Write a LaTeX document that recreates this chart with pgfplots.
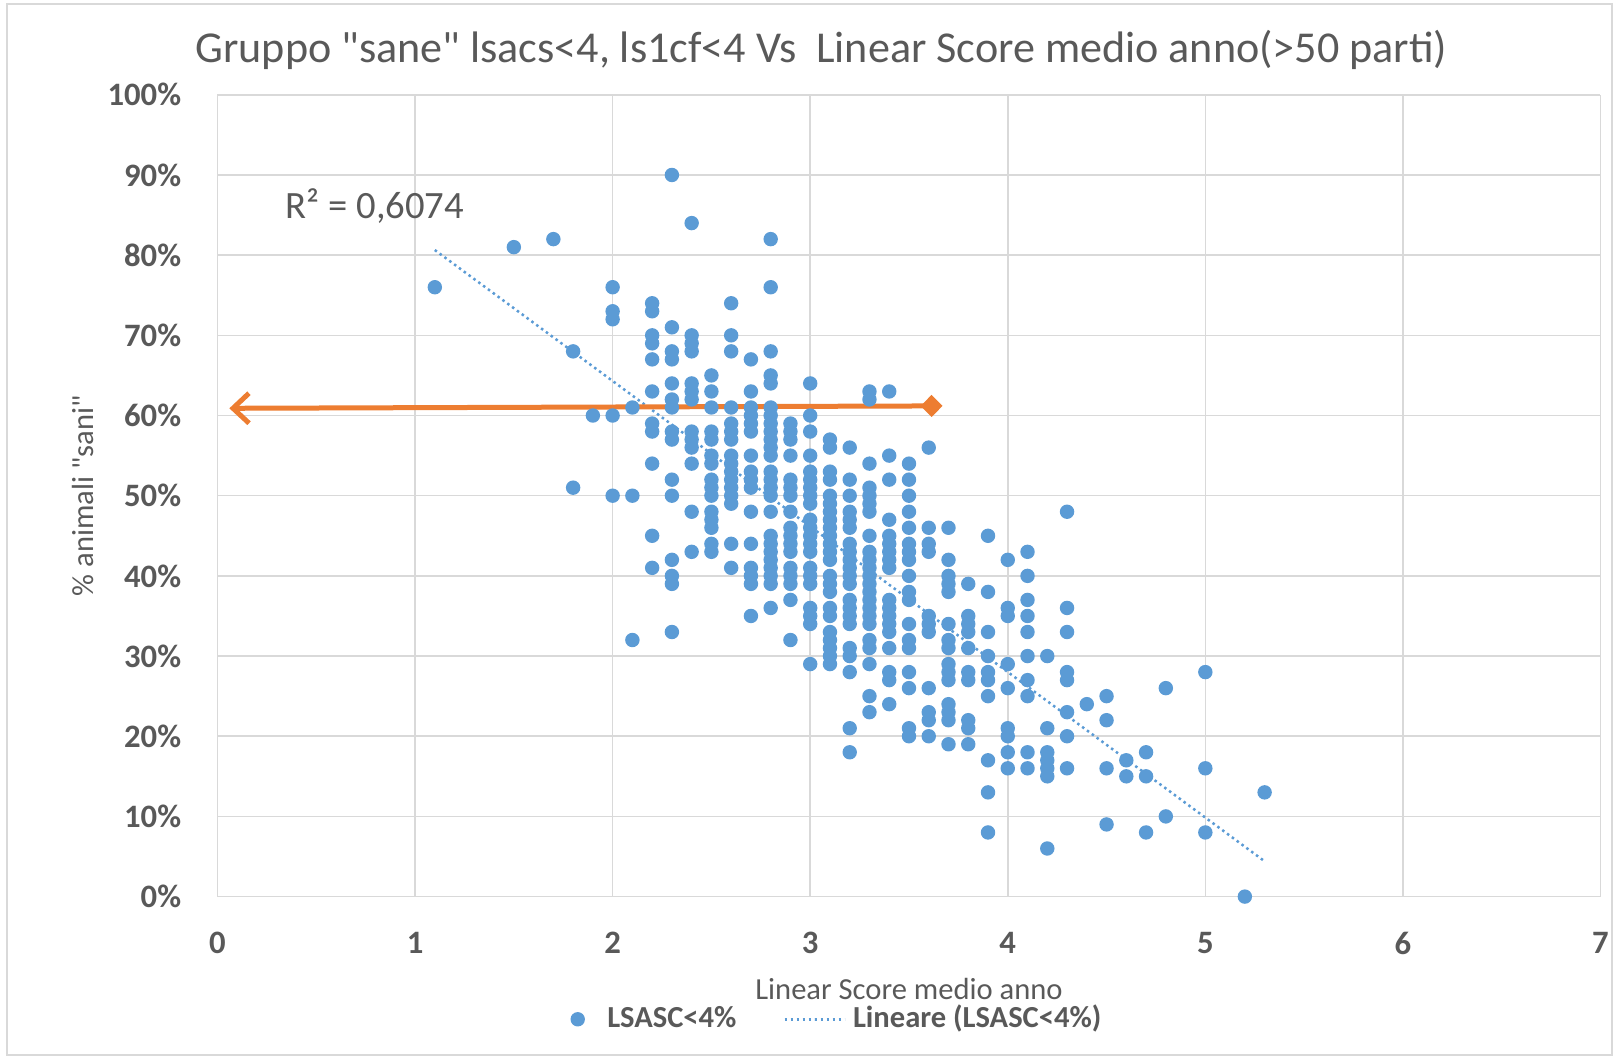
\documentclass[border=0pt]{standalone}
\usepackage{fontspec}
\setmainfont{Carlito}
\usepackage{pgfplots}
\pgfplotsset{compat=1.18}
\usetikzlibrary{arrows.meta}
\definecolor{ptblue}{HTML}{5B9BD5}
\definecolor{orng}{HTML}{ED7D31}
\definecolor{gridc}{HTML}{D9D9D9}
\definecolor{txt}{HTML}{595959}
\begin{document}
\begin{tikzpicture}
\useasboundingbox (-21.75mm,-16.24mm) rectangle (139.85mm,89.66mm);
\draw[gridc, line width=0.2mm] (-21.0mm,-15.8mm) rectangle (139.45mm,89.26mm);
\begin{axis}[
 at={(0,0)}, anchor=south west,
 scale only axis, width=138.3mm, height=80.18mm,
 xmin=0, xmax=7, ymin=0, ymax=100,
 xtick={0,...,7}, xticklabels={0,1,2,3,4,5,6,7},
 ytick={0,10,...,100}, yticklabels={0\%,10\%,20\%,30\%,40\%,50\%,60\%,70\%,80\%,90\%,100\%},
 grid=major, major grid style={gridc, line width=0.15mm},
 axis line style={draw=none},
 major tick length=0pt,
 tick label style={font=\fontsize{9.3pt}{11pt}\selectfont\bfseries, text=txt},
 xticklabel style={yshift=-2.3mm},
 yticklabel style={xshift=-2.4mm},
 clip=false,
 title={Gruppo \textquotedbl sane\textquotedbl{} lsacs<4, ls1cf<4 Vs\ \ Linear Score medio anno(>50 parti)},
 title style={at={(axis description cs:0.4367,1.0296)}, anchor=center, font=\fontsize{12.55pt}{15pt}\selectfont, text=txt},
 xlabel={Linear Score medio anno},
 ylabel={\% animali \textquotedbl sani\textquotedbl},
 every axis x label/.style={at={(axis description cs:0.5,-0.1157)}, anchor=center, font=\fontsize{8.7pt}{10pt}\selectfont, text=txt},
 every axis y label/.style={at={(axis description cs:-0.0976,0.5)}, rotate=90, anchor=center, font=\fontsize{8.7pt}{10pt}\selectfont, text=txt},
 legend style={at={(axis description cs:0.45,-0.153)}, anchor=center, draw=none, fill=none, legend columns=2,
   font=\fontsize{8.7pt}{10pt}\selectfont\bfseries, text=txt,
   /tikz/every even column/.append style={column sep=4mm}},
 legend cell align=left,
]
\addplot[only marks, mark=*, mark size=0.65mm, mark options={fill=ptblue, draw=ptblue}] coordinates {
(1.1,76) (1.5,81) (1.7,82) (1.8,68) (1.8,51) (1.9,60)
(2.0,76) (2.0,73) (2.0,72) (2.0,60) (2.0,50)
(2.1,61) (2.1,50) (2.1,32)
(2.2,74) (2.2,73) (2.2,70) (2.2,69) (2.2,67) (2.2,63) (2.2,59) (2.2,58) (2.2,54) (2.2,45) (2.2,41)
(2.3,90) (2.3,71) (2.3,68) (2.3,67) (2.3,64) (2.3,62) (2.3,61) (2.3,58) (2.3,57) (2.3,52) (2.3,50) (2.3,42) (2.3,40) (2.3,39) (2.3,33)
(2.4,84) (2.4,70) (2.4,69) (2.4,68) (2.4,64) (2.4,63) (2.4,62) (2.4,58) (2.4,57) (2.4,56) (2.4,54) (2.4,48) (2.4,43)
(2.5,65) (2.5,63) (2.5,61) (2.5,58) (2.5,57) (2.5,55) (2.5,54) (2.5,52) (2.5,51) (2.5,50) (2.5,48) (2.5,47) (2.5,46) (2.5,44) (2.5,43)
(2.6,74) (2.6,70) (2.6,68) (2.6,61) (2.6,59) (2.6,58) (2.6,57) (2.6,55) (2.6,54) (2.6,53) (2.6,52) (2.6,51) (2.6,50) (2.6,49) (2.6,44) (2.6,41)
(2.7,67) (2.7,63) (2.7,61) (2.7,60) (2.7,59) (2.7,58) (2.7,55) (2.7,53) (2.7,52) (2.7,51) (2.7,48) (2.7,44) (2.7,41) (2.7,40) (2.7,39) (2.7,35)
(2.8,82) (2.8,76) (2.8,68) (2.8,65) (2.8,64) (2.8,61) (2.8,60) (2.8,59) (2.8,58) (2.8,57) (2.8,56) (2.8,55) (2.8,53) (2.8,52) (2.8,51) (2.8,50) (2.8,48) (2.8,45) (2.8,44) (2.8,43) (2.8,42) (2.8,41) (2.8,40) (2.8,39) (2.8,36)
(2.9,59) (2.9,58) (2.9,57) (2.9,55) (2.9,52) (2.9,51) (2.9,50) (2.9,48) (2.9,46) (2.9,45) (2.9,44) (2.9,43) (2.9,41) (2.9,40) (2.9,39) (2.9,37) (2.9,32)
(3.0,64) (3.0,60) (3.0,58) (3.0,55) (3.0,53) (3.0,52) (3.0,51) (3.0,50) (3.0,49) (3.0,47) (3.0,46) (3.0,45) (3.0,44) (3.0,43) (3.0,41) (3.0,40) (3.0,39) (3.0,36) (3.0,35) (3.0,34) (3.0,29)
(3.1,57) (3.1,56) (3.1,53) (3.1,52) (3.1,50) (3.1,49) (3.1,48) (3.1,47) (3.1,46) (3.1,45) (3.1,44) (3.1,43) (3.1,42) (3.1,40) (3.1,39) (3.1,38) (3.1,36) (3.1,35) (3.1,33) (3.1,32) (3.1,31) (3.1,30) (3.1,29)
(3.2,56) (3.2,52) (3.2,50) (3.2,48) (3.2,47) (3.2,46) (3.2,44) (3.2,43) (3.2,42) (3.2,41) (3.2,40) (3.2,39) (3.2,37) (3.2,36) (3.2,35) (3.2,34) (3.2,31) (3.2,30) (3.2,28) (3.2,21) (3.2,18)
(3.3,63) (3.3,62) (3.3,54) (3.3,51) (3.3,50) (3.3,49) (3.3,48) (3.3,45) (3.3,43) (3.3,42) (3.3,41) (3.3,40) (3.3,39) (3.3,38) (3.3,37) (3.3,36) (3.3,35) (3.3,34) (3.3,32) (3.3,31) (3.3,29) (3.3,25) (3.3,23)
(3.4,63) (3.4,55) (3.4,52) (3.4,47) (3.4,45) (3.4,44) (3.4,43) (3.4,42) (3.4,41) (3.4,37) (3.4,36) (3.4,35) (3.4,34) (3.4,33) (3.4,31) (3.4,28) (3.4,27) (3.4,24)
(3.5,54) (3.5,52) (3.5,50) (3.5,48) (3.5,46) (3.5,44) (3.5,43) (3.5,42) (3.5,40) (3.5,38) (3.5,37) (3.5,34) (3.5,32) (3.5,31) (3.5,28) (3.5,26) (3.5,21) (3.5,20)
(3.6,56) (3.6,46) (3.6,44) (3.6,43) (3.6,35) (3.6,34) (3.6,33) (3.6,26) (3.6,23) (3.6,22) (3.6,20)
(3.7,46) (3.7,42) (3.7,40) (3.7,39) (3.7,38) (3.7,34) (3.7,32) (3.7,31) (3.7,29) (3.7,28) (3.7,27) (3.7,24) (3.7,23) (3.7,22) (3.7,19)
(3.8,39) (3.8,35) (3.8,34) (3.8,33) (3.8,31) (3.8,28) (3.8,27) (3.8,22) (3.8,21) (3.8,19)
(3.9,45) (3.9,38) (3.9,33) (3.9,30) (3.9,28) (3.9,27) (3.9,25) (3.9,17) (3.9,13) (3.9,8)
(4.0,42) (4.0,36) (4.0,35) (4.0,29) (4.0,26) (4.0,21) (4.0,20) (4.0,18) (4.0,16)
(4.1,43) (4.1,40) (4.1,37) (4.1,35) (4.1,33) (4.1,30) (4.1,27) (4.1,25) (4.1,18) (4.1,16)
(4.2,30) (4.2,21) (4.2,18) (4.2,17) (4.2,16) (4.2,15) (4.2,6)
(4.3,48) (4.3,36) (4.3,33) (4.3,28) (4.3,27) (4.3,23) (4.3,20) (4.3,16)
(4.4,24) (4.5,25) (4.5,22) (4.5,16) (4.5,9) (4.6,17) (4.6,15)
(4.7,18) (4.7,15) (4.7,8) (4.8,26) (4.8,10)
(5.0,28) (5.0,16) (5.0,8) (5.2,0) (5.3,13)
};
\addlegendentry{\hspace{1.6mm}LSASC<4\%}
\addplot[ptblue, line width=0.25mm, dash pattern=on 0.25mm off 0.35mm] coordinates {(1.1,80.64) (5.3,4.41)};
\addlegendentry{Lineare (LSASC<4\%)}
\addplot[forget plot, orng, line width=0.5mm, {Straight Barb[length=1.6mm,width=3mm,line width=0.5mm]}-{Diamond[length=2.2mm,width=2.2mm]}] coordinates {(0.06,60.9) (3.67,61.2)};
\node[text=txt, font=\fontsize{11pt}{13pt}\selectfont] at (axis cs:0.797,86.1) {R² = 0,6074};
\end{axis}
\end{tikzpicture}
\end{document}
